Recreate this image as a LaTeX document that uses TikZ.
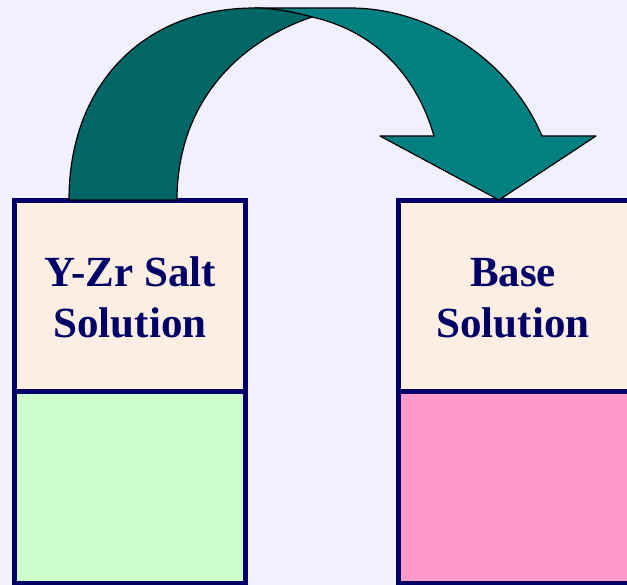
\documentclass[tikz,border=0pt]{standalone}
\usepackage{fontspec}
\setmainfont{Liberation Serif}
\definecolor{bg}{HTML}{F0F0FF}
\definecolor{navy}{HTML}{000066}
\definecolor{cream}{HTML}{FDEEE4}
\definecolor{mint}{HTML}{CCFFCC}
\definecolor{pinkf}{HTML}{FF99CC}
\definecolor{tealdark}{HTML}{006666}
\definecolor{teallight}{HTML}{008080}
\begin{document}
\begin{tikzpicture}[x=1pt,y=-1pt,
  box/.style={draw=navy,line width=5pt,inner sep=0pt,outer sep=0pt},
  lbl/.style={font=\fontsize{43}{51}\selectfont\bfseries,text=navy,inner sep=0pt,anchor=base},
  ribbon/.style={draw=black,line width=1.2pt,line join=round}]
\fill[bg] (0,0) rectangle (627,585);
\useasboundingbox (0,0) rectangle (627,585);
\clip (0,0) rectangle (627,585);
% left container
\node[box,fill=mint,minimum width=231pt,minimum height=191pt] (lbot) at (130,487.5) {};
\node[box,fill=cream,minimum width=231pt,minimum height=191.5pt] (ltop) at (130,296.25) {};
% right container
\node[box,fill=pinkf,minimum width=262pt,minimum height=191pt] (rbot) at (529,487.5) {};
\node[box,fill=cream,minimum width=262pt,minimum height=191.5pt] (rtop) at (529,296.25) {};
% labels
\node[lbl] (l1) at (130,287) {Y-Zr Salt};
\node[lbl] (l2) at (130,338) {Solution};
\node[lbl] (r1) at (513,287) {Base};
\node[lbl] (r2) at (513,338) {Solution};
% curved arrow: front (light) part
\fill[teallight,ribbon] (255,8) -- (350,8)
  .. controls (430,8) and (510,60) .. (542,136)
  -- (596,136) -- (499,200) -- (380,136) -- (434,136)
  .. controls (415,70) and (370,30) .. (312,17)
  .. controls (290,11) and (270,8) .. (255,8) -- cycle;
% back (dark) part
\fill[tealdark,ribbon] (69,200)
  .. controls (69,85) and (143,8) .. (255,8)
  .. controls (270,8) and (290,11) .. (312,17)
  .. controls (230,45) and (177,110) .. (177,200) -- cycle;
\end{tikzpicture}
\end{document}
